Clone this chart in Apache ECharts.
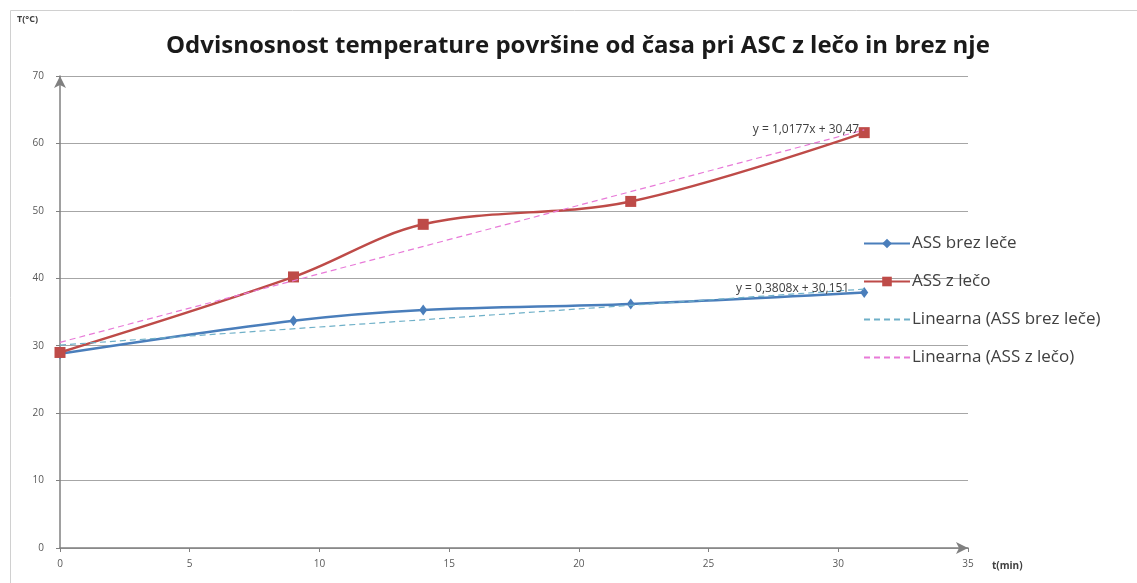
<!DOCTYPE html>
<html>
<head>
<meta charset="utf-8">
<script src="https://cdn.jsdelivr.net/npm/echarts@6/dist/echarts.min.js"></script>
<style>
  html, body { margin: 0; padding: 0; background: #fff; }
  #chart { width: 1137px; height: 583px; }
</style>
</head>
<body>
<div id="chart"></div>
<script>
// time in minutes
const times = [0, 9, 14, 22, 31];
// surface temperature without / with lens
const brezLece = [28.8, 33.7, 35.3, 36.2, 37.9];
const zLeco = [29.0, 40.2, 48.0, 51.4, 61.6];
// Excel trend lines, endpoints as drawn
const trendX = [0, 31];
const trendBrez = [30.1, 38.4];
const trendZ = [30.5, 62.0];
const eqBrez = 'y = 0,3808x + 30,151';
const eqZ = 'y = 1,0177x + 30,47';
const yTicks = [0, 10, 20, 30, 40, 50, 60, 70];

const pair = (xs, ys) => xs.map((x, i) => [x, ys[i]]);

function trendData(ys, text, dist) {
  const d = pair(trendX, ys);
  d[d.length - 1] = {
    value: d[d.length - 1],
    label: {
      show: true,
      position: 'left',
      distance: dist,
      formatter: text,
      fontSize: 12,
      color: '#404040',
      fontFamily: 'Open Sans'
    }
  };
  return d;
}

const chart = echarts.init(document.getElementById('chart'));
const option = {
  animation: false,
  textStyle: { fontFamily: 'Open Sans' },
  title: {
    text: 'Odvisnosnost temperature površine od časa pri ASC z lečo in brez nje',
    left: 161,
    top: 29,
    textStyle: { fontSize: 24, fontWeight: 'bold', color: '#1a1a1a', fontFamily: 'Open Sans' }
  },
  graphic: [{
    type: 'rect',
    shape: { x: 10.5, y: 10.5, width: 1140, height: 600 },
    style: { fill: 'none', stroke: '#d0d0d0', lineWidth: 1 },
    silent: true
  }],
  legend: {
    orient: 'vertical',
    left: 858,
    top: 230,
    itemWidth: 46,
    itemHeight: 12,
    itemGap: 21,
    textStyle: { fontSize: 17, color: '#404040', fontFamily: 'Open Sans', padding: [0, 0, 0, -3] },
    data: ['ASS brez leče', 'ASS z lečo', 'Linearna (ASS brez leče)', 'Linearna (ASS z lečo)']
  },
  grid: { left: 60, right: 169, top: 76, bottom: 35 },
  xAxis: {
    type: 'value',
    min: 0, max: 35, interval: 5,
    name: 't(min)',
    nameLocation: 'end',
    nameGap: 24,
    nameTextStyle: { fontSize: 10, fontWeight: 'bold', color: '#404040', verticalAlign: 'top', padding: [13, 0, 0, 0] },
    axisLine: { lineStyle: { color: '#808080', width: 1.5 }, symbol: ['none', 'arrow'], symbolSize: [9, 12] },
    axisTick: { show: true, length: 4, lineStyle: { color: '#808080' } },
    axisLabel: { fontSize: 10, color: '#595959', margin: 11 },
    splitLine: { show: false }
  },
  yAxis: {
    type: 'value',
    min: 0, max: 70, interval: 10,
    name: 'T(°C)',
    nameLocation: 'end',
    nameGap: 52,
    nameTextStyle: { fontSize: 9, fontWeight: 'bold', color: '#404040', align: 'right', padding: [0, 22, 0, 0] },
    axisLine: { show: true, lineStyle: { color: '#808080', width: 1.5 }, symbol: ['none', 'arrow'], symbolSize: [9, 12] },
    axisTick: { show: true, length: 4, lineStyle: { color: '#808080' } },
    axisLabel: {
      fontSize: 10, color: '#595959', margin: 16,
      formatter: v => (yTicks.indexOf(v) >= 0 ? String(v) : '')
    },
    splitLine: { show: true, lineStyle: { color: '#a6a6a6', width: 1 } }
  },
  series: [
    {
      name: 'ASS brez leče',
      type: 'line',
      smooth: 0.35,
      data: pair(times, brezLece),
      symbol: 'diamond',
      symbolSize: [8, 11],
      lineStyle: { color: '#4a7ebb', width: 2.5 },
      itemStyle: { color: '#4a7ebb' },
      z: 3
    },
    {
      name: 'ASS z lečo',
      type: 'line',
      smooth: 0.35,
      data: pair(times, zLeco),
      symbol: 'rect',
      symbolSize: 11,
      lineStyle: { color: '#be4b48', width: 2.5 },
      itemStyle: { color: '#be4b48' },
      z: 3
    },
    {
      name: 'Linearna (ASS brez leče)',
      type: 'line',
      data: trendData(trendBrez, eqBrez, 14),
      symbol: 'circle',
      symbolSize: 2,
      showSymbol: true,
      lineStyle: { color: '#6fb0c8', width: 1.2, type: [6, 4] },
      itemStyle: { color: 'rgba(0,0,0,0)' },
      z: 4
    },
    {
      name: 'Linearna (ASS z lečo)',
      type: 'line',
      data: trendData(trendZ, eqZ, 4),
      symbol: 'circle',
      symbolSize: 2,
      showSymbol: true,
      lineStyle: { color: '#e87ad8', width: 1.2, type: [6, 4] },
      itemStyle: { color: 'rgba(0,0,0,0)' },
      z: 4
    }
  ]
};
chart.setOption(option);
</script>
</body>
</html>
